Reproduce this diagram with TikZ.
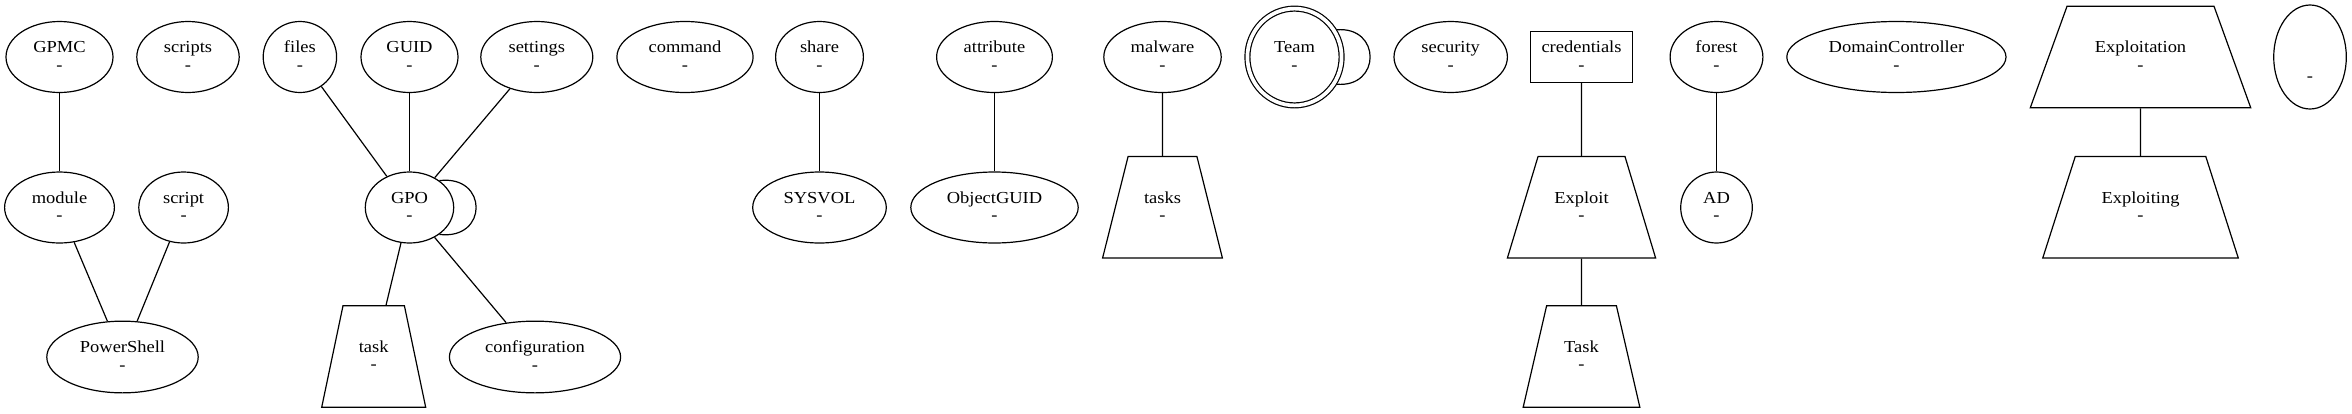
\documentclass[tikz,border=0pt]{standalone}
\usepackage{fontspec}
\setmainfont{Liberation Serif}[FakeStretch=1.1]
\usetikzlibrary{shapes.geometric}
\newcommand\nodelbl[1]{\rule{0pt}{13pt}#1\\-\rule[-3.9pt]{0pt}{3.9pt}}
\begin{document}
\begin{tikzpicture}[x=1pt,y=-1pt,
  every node/.style={font=\fontsize{16.8}{17.5}\selectfont, align=center, inner sep=0pt, line width=1.2pt},
  ell/.style={draw, ellipse, minimum width=#1, minimum height=71pt},
  trap/.style 2 args={draw, trapezium, trapezium left angle=#1, trapezium right angle=#1,
    text width=#2, text height=46.55pt, text depth=54.95pt, minimum width=0pt, minimum height=0pt},
  box/.style={draw, rectangle, minimum width=102.6pt, minimum height=50.6pt},
  link/.style={line width=1.2pt}]
\useasboundingbox (0,0) rectangle (2352,413);
% row 1
\node[ell=107pt]   (GPMC)     at (59.5,57)  {\nodelbl{GPMC}};
\node[ell=102.4pt] (scripts)  at (188,57)   {\nodelbl{scripts}};
\node[ell=73.4pt]  (files)    at (299.9,57) {\nodelbl{files}};
\node[ell=97pt]    (GUID)     at (409.5,57) {\nodelbl{GUID}};
\node[ell=112pt]   (settings) at (536.8,57) {\nodelbl{settings}};
\node[ell=136.2pt] (command)  at (685,57)   {\nodelbl{command}};
\node[ell=87.8pt]  (share)    at (819.5,57) {\nodelbl{share}};
\node[ell=115.8pt] (attribute) at (994.5,57) {\nodelbl{attribute}};
\node[ell=117.4pt] (malware)  at (1162.5,57) {\nodelbl{malware}};
\node[draw, ellipse, double, double distance=3.7pt, minimum width=94.2pt, minimum height=96.8pt, outer sep=2.45pt]
                   (Team)     at (1294.5,57) {\nodelbl{Team}};
\node[ell=113.4pt] (security) at (1450.7,57) {\nodelbl{security}};
\node[box]         (credentials) at (1581.5,57) {\nodelbl{credentials}};
\node[ell=92.8pt]  (forest)   at (1716.5,57)  {\nodelbl{forest}};
\node[ell=219.2pt] (DomainController) at (1896.4,57) {\nodelbl{DomainController}};
\node[trap={70.1}{146.9pt}] (Exploitation) at (2140.5,56.9) {\nodelbl{Exploitation}};
\node[ell=72.6pt, minimum height=104pt] (blank) at (2310,57) {\smash{\raisebox{-24.5pt}{-}}};
% row 2
\node[ell=109.8pt] (module)   at (59.5,207.5) {\nodelbl{module}};
\node[ell=89.6pt]  (script)   at (183.6,207.5) {\nodelbl{script}};
\node[ell=88.4pt]  (GPO)      at (409.5,207.5) {\nodelbl{GPO}};
\node[ell=133.6pt] (SYSVOL)   at (819.5,207.5) {\nodelbl{SYSVOL}};
\node[ell=167.4pt] (ObjectGUID) at (994.5,207.5) {\nodelbl{ObjectGUID}};
\node[trap={75.9}{68.8pt}] (tasks) at (1162.5,207.2) {\nodelbl{tasks}};
\node[trap={73.2}{86.9pt}] (Exploit) at (1581.5,207.2) {\nodelbl{Exploit}};
\node[ell=71.6pt]  (AD)       at (1716.5,207.5) {\nodelbl{AD}};
\node[trap={72.25}{130.5pt}] (Exploiting) at (2140.5,207.2) {\nodelbl{Exploiting}};
% row 3
\node[ell=151.4pt, minimum height=71.7pt] (PowerShell) at (122.5,357) {\nodelbl{PowerShell}};
\node[trap={78.15}{61.4pt}] (task) at (373.7,356.5) {\nodelbl{task}};
\node[ell=171.2pt, minimum height=71.7pt] (configuration) at (535,357) {\nodelbl{configuration}};
\node[trap={77.0}{69.8pt}] (Task) at (1581.5,356.5) {\nodelbl{Task}};
% edges
\draw[link] (GPMC) -- (module);
\draw[link] (module) -- (PowerShell);
\draw[link] (script) -- (PowerShell);
\draw[link] (files) -- (GPO);
\draw[link] (GUID) -- (GPO);
\draw[link] (settings) -- (GPO);
\draw[link] (GPO.42) .. controls +(49,-6) and +(49,6) .. (GPO.-42);
\draw[link] (GPO) -- (task);
\draw[link] (GPO) -- (configuration);
\draw[link] (share) -- (SYSVOL);
\draw[link] (attribute) -- (ObjectGUID);
\draw[link] (malware) -- (tasks);
\draw[link] (Team.33) .. controls +(45,-4) and +(45,4) .. (Team.-33);
\draw[link] (credentials) -- (Exploit);
\draw[link] (Exploit) -- (Task);
\draw[link] (forest) -- (AD);
\draw[link] (Exploitation) -- (Exploiting);
\end{tikzpicture}
\end{document}
